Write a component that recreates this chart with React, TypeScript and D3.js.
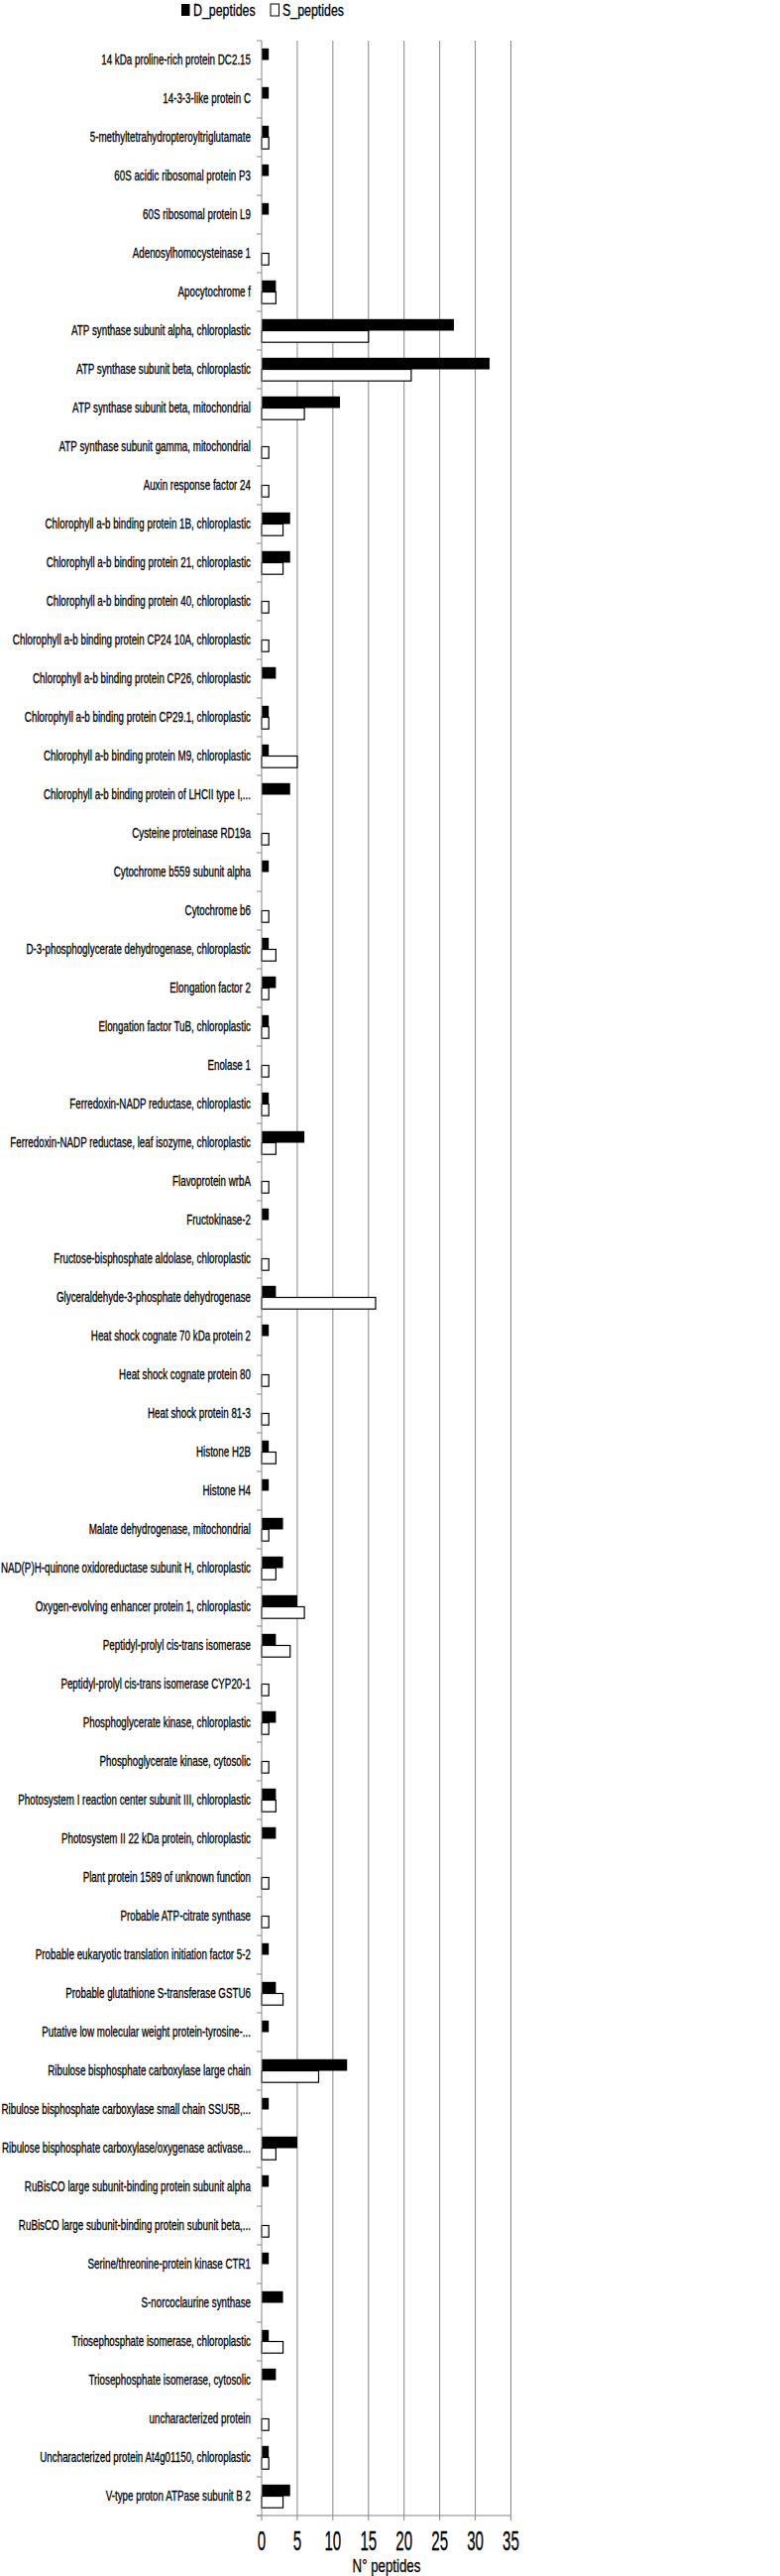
import React, { Component } from 'react';
import * as d3 from 'd3';

const categories = [
  '14 kDa proline-rich protein DC2.15',
  '14-3-3-like protein C',
  '5-methyltetrahydropteroyltriglutamate',
  '60S acidic ribosomal protein P3',
  '60S ribosomal protein L9',
  'Adenosylhomocysteinase 1',
  'Apocytochrome f',
  'ATP synthase subunit alpha, chloroplastic',
  'ATP synthase subunit beta, chloroplastic',
  'ATP synthase subunit beta, mitochondrial',
  'ATP synthase subunit gamma, mitochondrial',
  'Auxin response factor 24',
  'Chlorophyll a-b binding protein 1B, chloroplastic',
  'Chlorophyll a-b binding protein 21, chloroplastic',
  'Chlorophyll a-b binding protein 40, chloroplastic',
  'Chlorophyll a-b binding protein CP24 10A, chloroplastic',
  'Chlorophyll a-b binding protein CP26, chloroplastic',
  'Chlorophyll a-b binding protein CP29.1, chloroplastic',
  'Chlorophyll a-b binding protein M9, chloroplastic',
  'Chlorophyll a-b binding protein of LHCII type I,...',
  'Cysteine proteinase RD19a',
  'Cytochrome b559 subunit alpha',
  'Cytochrome b6',
  'D-3-phosphoglycerate dehydrogenase, chloroplastic',
  'Elongation factor 2',
  'Elongation factor TuB, chloroplastic',
  'Enolase 1',
  'Ferredoxin-NADP reductase, chloroplastic',
  'Ferredoxin-NADP reductase, leaf isozyme, chloroplastic',
  'Flavoprotein wrbA',
  'Fructokinase-2',
  'Fructose-bisphosphate aldolase, chloroplastic',
  'Glyceraldehyde-3-phosphate dehydrogenase',
  'Heat shock cognate 70 kDa protein 2',
  'Heat shock cognate protein 80',
  'Heat shock protein 81-3',
  'Histone H2B',
  'Histone H4',
  'Malate dehydrogenase, mitochondrial',
  'NAD(P)H-quinone oxidoreductase subunit H, chloroplastic',
  'Oxygen-evolving enhancer protein 1, chloroplastic',
  'Peptidyl-prolyl cis-trans isomerase',
  'Peptidyl-prolyl cis-trans isomerase CYP20-1',
  'Phosphoglycerate kinase, chloroplastic',
  'Phosphoglycerate kinase, cytosolic',
  'Photosystem I reaction center subunit III, chloroplastic',
  'Photosystem II 22 kDa protein, chloroplastic',
  'Plant protein 1589 of unknown function',
  'Probable ATP-citrate synthase',
  'Probable eukaryotic translation initiation factor 5-2',
  'Probable glutathione S-transferase GSTU6',
  'Putative low molecular weight protein-tyrosine-...',
  'Ribulose bisphosphate carboxylase large chain',
  'Ribulose bisphosphate carboxylase small chain SSU5B,...',
  'Ribulose bisphosphate carboxylase/oxygenase activase...',
  'RuBisCO large subunit-binding protein subunit alpha',
  'RuBisCO large subunit-binding protein subunit beta,...',
  'Serine/threonine-protein kinase CTR1',
  'S-norcoclaurine synthase',
  'Triosephosphate isomerase, chloroplastic',
  'Triosephosphate isomerase, cytosolic',
  'uncharacterized protein',
  'Uncharacterized protein At4g01150, chloroplastic',
  'V-type proton ATPase subunit B 2',
];

const dPeptides = [
  1, 1, 1, 1, 1, 0, 2, 27, 32, 11,
  0, 0, 4, 4, 0, 0, 2, 1, 1, 4,
  0, 1, 0, 1, 2, 1, 0, 1, 6, 0,
  1, 0, 2, 1, 0, 0, 1, 1, 3, 3,
  5, 2, 0, 2, 0, 2, 2, 0, 0, 1,
  2, 1, 12, 1, 5, 1, 0, 1, 3, 1,
  2, 0, 1, 4,
];

const sPeptides = [
  0, 0, 1, 0, 0, 1, 2, 15, 21, 6,
  1, 1, 3, 3, 1, 1, 0, 1, 5, 0,
  1, 0, 1, 2, 1, 1, 1, 1, 2, 1,
  0, 1, 16, 0, 1, 1, 2, 0, 1, 2,
  6, 4, 1, 1, 1, 2, 0, 1, 1, 0,
  3, 0, 8, 0, 2, 0, 1, 0, 0, 3,
  0, 1, 1, 3,
];

const seriesNames = ['D_peptides', 'S_peptides'];
const xTicks = [0, 5, 10, 15, 20, 25, 30, 35];
const xTitle = 'N° peptides';

class BarChart extends Component {
  myRef = React.createRef<HTMLDivElement>();

  componentDidMount() {
    this.drawChart();
  }

  drawChart() {
    const w = 787;
    const h = 2598;
    const top = 41;
    const bottom = 2537;
    const left = 264;
    const right = 515.5;
    const font = "'Liberation Sans', Arial, sans-serif";
    const grid = '#868686';

    d3.select(this.myRef.current).selectAll('*').remove();

    const svg = d3.select(this.myRef.current)
      .append('svg')
      .attr('width', w)
      .attr('height', h)
      .style('display', 'block')
      .style('background', '#fff');

    const x = d3.scaleLinear().domain([0, 35]).range([left, right]);
    const y = d3.scaleBand().domain(categories).range([top, bottom])
      .paddingInner(0.4).paddingOuter(0.2);
    const sub = d3.scaleBand().domain(seriesNames).range([0, y.bandwidth()]);
    const step = y.step();

    // gridlines
    svg.append('g').selectAll('line')
      .data(xTicks.filter(t => t > 0))
      .enter().append('line')
      .attr('x1', d => x(d)).attr('x2', d => x(d))
      .attr('y1', top).attr('y2', bottom)
      .attr('stroke', grid).attr('stroke-width', 1);

    // bars
    const rows = categories.map((c, i) => ({ c, vals: [dPeptides[i], sPeptides[i]] }));
    const g = svg.append('g').selectAll('g')
      .data(rows).enter().append('g')
      .attr('transform', d => `translate(0,${y(d.c)})`);

    g.selectAll('rect')
      .data(d => d.vals.map((v, k) => ({ v, k })).filter(e => e.v > 0))
      .enter().append('rect')
      .attr('x', x(0))
      .attr('y', e => sub(seriesNames[e.k]) as number)
      .attr('width', e => x(e.v) - x(0))
      .attr('height', sub.bandwidth())
      .attr('fill', e => e.k === 0 ? '#000' : '#fff')
      .attr('stroke', '#000')
      .attr('stroke-width', e => e.k === 0 ? 0 : 1.2);

    // left axis
    svg.append('line')
      .attr('x1', left).attr('x2', left).attr('y1', top).attr('y2', bottom)
      .attr('stroke', grid);
    svg.append('g').selectAll('line')
      .data(d3.range(categories.length + 1))
      .enter().append('line')
      .attr('x1', left - 5).attr('x2', left)
      .attr('y1', i => top + i * step).attr('y2', i => top + i * step)
      .attr('stroke', grid);

    svg.append('g').selectAll('text')
      .data(categories).enter().append('text')
      .attr('transform', d => `translate(253,${(y(d) as number) + y.bandwidth() / 2}) scale(0.7,1)`)
      .attr('text-anchor', 'end')
      .attr('dy', '0.35em')
      .attr('font-family', font)
      .attr('font-size', 14)
      .attr('fill', '#000')
      .attr('stroke', '#000')
      .attr('stroke-width', 0.3)
      .text(d => d);

    // bottom axis
    svg.append('line')
      .attr('x1', left - 5).attr('x2', right).attr('y1', bottom).attr('y2', bottom)
      .attr('stroke', grid);
    svg.append('g').selectAll('line')
      .data(xTicks).enter().append('line')
      .attr('x1', d => x(d)).attr('x2', d => x(d))
      .attr('y1', bottom).attr('y2', bottom + 5)
      .attr('stroke', grid);
    svg.append('g').selectAll('text')
      .data(xTicks).enter().append('text')
      .attr('transform', d => `translate(${x(d)},2563) scale(0.56,1)`)
      .attr('text-anchor', 'middle')
      .attr('dy', '0.35em')
      .attr('font-family', font)
      .attr('font-size', 27)
      .attr('stroke', '#000')
      .attr('stroke-width', 0.3)
      .text(d => d);

    svg.append('text')
      .attr('transform', `translate(390,2587) scale(0.7,1)`)
      .attr('text-anchor', 'middle')
      .attr('dy', '0.35em')
      .attr('font-family', font)
      .attr('font-size', 19)
      .attr('stroke', '#000')
      .attr('stroke-width', 0.3)
      .text(xTitle);

    // legend
    const legendX = [183, 273];
    const lg = svg.append('g').selectAll('g')
      .data(seriesNames).enter().append('g')
      .attr('transform', (d, i) => `translate(${legendX[i]},4)`);
    lg.append('rect')
      .attr('width', 8.5).attr('height', 12)
      .attr('fill', (d, i) => i === 0 ? '#000' : '#fff')
      .attr('stroke', '#000')
      .attr('stroke-width', (d, i) => i === 0 ? 0 : 1);
    lg.append('text')
      .attr('transform', 'translate(12,12) scale(0.76,1)')
      .attr('font-family', font)
      .attr('font-size', 16.3)
      .attr('stroke', '#000')
      .attr('stroke-width', 0.3)
      .text(d => d);
  }

  render() {
    return <div ref={this.myRef} style={{ position: 'absolute', left: 0, top: 0 }}></div>;
  }
}

export default function App() {
  return <BarChart />;
}
